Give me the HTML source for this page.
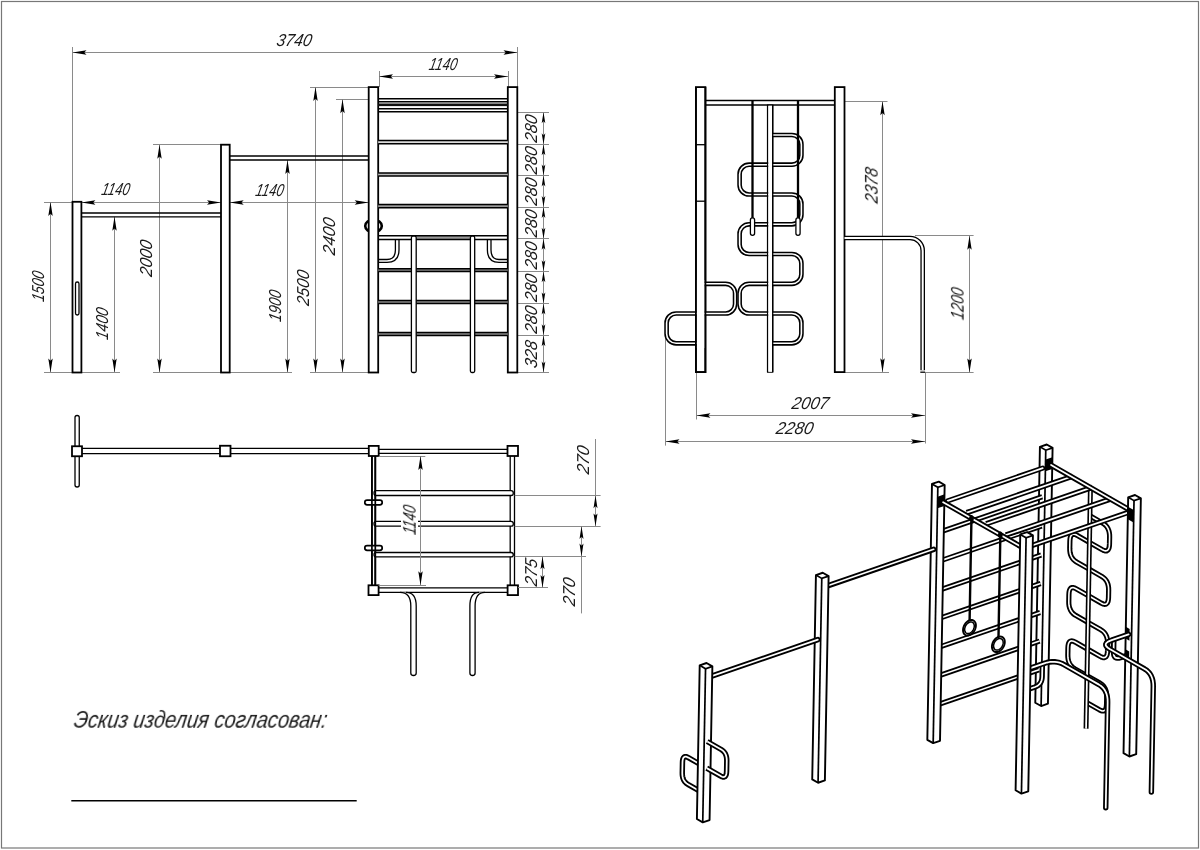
<!DOCTYPE html>
<html><head><meta charset="utf-8"><style>
html,body{margin:0;padding:0;background:#fff;width:1200px;height:850px;overflow:hidden}
svg{display:block}
text{font-family:"Liberation Sans",sans-serif;font-style:italic;fill:#1a1a1a}
</style></head><body>
<svg width="1200" height="850" viewBox="0 0 1200 850">
<rect width="1200" height="850" fill="#fff"/>
<rect x="1.5" y="1.5" width="1197" height="846.5" fill="none" stroke="#777" stroke-width="1.2"/>
<line x1="72.50" y1="47.00" x2="72.50" y2="201.80" stroke="#8a8a8a" stroke-width="1.0" />
<line x1="517.50" y1="47.00" x2="517.50" y2="87.00" stroke="#8a8a8a" stroke-width="1.0" />
<line x1="72.50" y1="52.50" x2="517.50" y2="52.50" stroke="#8a8a8a" stroke-width="1.0" />
<path d="M72.50,52.50 L86.50,50.30 L84.30,52.50 L86.50,54.70 Z" fill="#000"/>
<path d="M517.50,52.50 L503.50,54.70 L505.70,52.50 L503.50,50.30 Z" fill="#000"/>
<line x1="379.50" y1="71.00" x2="379.50" y2="87.00" stroke="#8a8a8a" stroke-width="1.0" />
<line x1="508.50" y1="71.00" x2="508.50" y2="87.00" stroke="#8a8a8a" stroke-width="1.0" />
<line x1="379.00" y1="76.50" x2="508.00" y2="76.50" stroke="#8a8a8a" stroke-width="1.0" />
<path d="M379.00,76.50 L393.00,74.30 L390.80,76.50 L393.00,78.70 Z" fill="#000"/>
<path d="M508.00,76.50 L494.00,78.70 L496.20,76.50 L494.00,74.30 Z" fill="#000"/>
<line x1="44.00" y1="202.50" x2="72.50" y2="202.50" stroke="#8a8a8a" stroke-width="1.0" />
<line x1="81.40" y1="202.50" x2="368.70" y2="202.50" stroke="#8a8a8a" stroke-width="1.0" />
<path d="M81.40,202.50 L95.40,200.30 L93.20,202.50 L95.40,204.70 Z" fill="#000"/>
<path d="M221.00,202.50 L207.00,204.70 L209.20,202.50 L207.00,200.30 Z" fill="#000"/>
<path d="M229.70,202.50 L243.70,200.30 L241.50,202.50 L243.70,204.70 Z" fill="#000"/>
<path d="M368.70,202.50 L354.70,204.70 L356.90,202.50 L354.70,200.30 Z" fill="#000"/>
<line x1="50.50" y1="202.00" x2="50.50" y2="372.50" stroke="#8a8a8a" stroke-width="1.0" />
<path d="M50.50,202.00 L52.70,216.00 L50.50,213.80 L48.30,216.00 Z" fill="#000"/>
<path d="M50.50,372.50 L48.30,358.50 L50.50,360.70 L52.70,358.50 Z" fill="#000"/>
<line x1="114.50" y1="216.80" x2="114.50" y2="372.50" stroke="#8a8a8a" stroke-width="1.0" />
<path d="M114.50,216.80 L116.70,230.80 L114.50,228.60 L112.30,230.80 Z" fill="#000"/>
<path d="M114.50,372.50 L112.30,358.50 L114.50,360.70 L116.70,358.50 Z" fill="#000"/>
<line x1="153.00" y1="144.50" x2="221.00" y2="144.50" stroke="#8a8a8a" stroke-width="1.0" />
<line x1="159.50" y1="144.70" x2="159.50" y2="372.50" stroke="#8a8a8a" stroke-width="1.0" />
<path d="M159.50,144.70 L161.70,158.70 L159.50,156.50 L157.30,158.70 Z" fill="#000"/>
<path d="M159.50,372.50 L157.30,358.50 L159.50,360.70 L161.70,358.50 Z" fill="#000"/>
<line x1="287.50" y1="160.00" x2="287.50" y2="372.50" stroke="#8a8a8a" stroke-width="1.0" />
<path d="M287.50,160.00 L289.70,174.00 L287.50,171.80 L285.30,174.00 Z" fill="#000"/>
<path d="M287.50,372.50 L285.30,358.50 L287.50,360.70 L289.70,358.50 Z" fill="#000"/>
<line x1="310.00" y1="87.50" x2="368.70" y2="87.50" stroke="#8a8a8a" stroke-width="1.0" />
<line x1="315.50" y1="87.00" x2="315.50" y2="372.50" stroke="#8a8a8a" stroke-width="1.0" />
<path d="M315.50,87.00 L317.70,101.00 L315.50,98.80 L313.30,101.00 Z" fill="#000"/>
<path d="M315.50,372.50 L313.30,358.50 L315.50,360.70 L317.70,358.50 Z" fill="#000"/>
<line x1="336.00" y1="99.50" x2="368.70" y2="99.50" stroke="#8a8a8a" stroke-width="1.0" />
<line x1="342.50" y1="99.20" x2="342.50" y2="372.50" stroke="#8a8a8a" stroke-width="1.0" />
<path d="M342.50,99.20 L344.70,113.20 L342.50,111.00 L340.30,113.20 Z" fill="#000"/>
<path d="M342.50,372.50 L340.30,358.50 L342.50,360.70 L344.70,358.50 Z" fill="#000"/>
<line x1="44.00" y1="372.50" x2="120.00" y2="372.50" stroke="#8a8a8a" stroke-width="1.0" />
<line x1="153.00" y1="372.50" x2="292.00" y2="372.50" stroke="#8a8a8a" stroke-width="1.0" />
<line x1="310.00" y1="372.50" x2="368.70" y2="372.50" stroke="#8a8a8a" stroke-width="1.0" />
<line x1="517.30" y1="372.50" x2="549.00" y2="372.50" stroke="#8a8a8a" stroke-width="1.0" />
<line x1="517.30" y1="112.50" x2="549.00" y2="112.50" stroke="#8a8a8a" stroke-width="1.0" />
<line x1="517.30" y1="144.50" x2="549.00" y2="144.50" stroke="#8a8a8a" stroke-width="1.0" />
<line x1="517.30" y1="175.50" x2="549.00" y2="175.50" stroke="#8a8a8a" stroke-width="1.0" />
<line x1="517.30" y1="207.50" x2="549.00" y2="207.50" stroke="#8a8a8a" stroke-width="1.0" />
<line x1="517.30" y1="238.50" x2="549.00" y2="238.50" stroke="#8a8a8a" stroke-width="1.0" />
<line x1="517.30" y1="271.50" x2="549.00" y2="271.50" stroke="#8a8a8a" stroke-width="1.0" />
<line x1="517.30" y1="303.50" x2="549.00" y2="303.50" stroke="#8a8a8a" stroke-width="1.0" />
<line x1="517.30" y1="335.50" x2="549.00" y2="335.50" stroke="#8a8a8a" stroke-width="1.0" />
<line x1="517.30" y1="372.50" x2="549.00" y2="372.50" stroke="#8a8a8a" stroke-width="1.0" />
<line x1="543.50" y1="112.20" x2="543.50" y2="372.50" stroke="#8a8a8a" stroke-width="1.0" />
<path d="M543.50,112.20 L545.30,123.20 L543.50,121.00 L541.70,123.20 Z" fill="#000"/>
<path d="M543.50,144.20 L541.70,133.20 L543.50,135.40 L545.30,133.20 Z" fill="#000"/>
<path d="M543.50,144.20 L545.30,155.20 L543.50,153.00 L541.70,155.20 Z" fill="#000"/>
<path d="M543.50,175.50 L541.70,164.50 L543.50,166.70 L545.30,164.50 Z" fill="#000"/>
<path d="M543.50,175.50 L545.30,186.50 L543.50,184.30 L541.70,186.50 Z" fill="#000"/>
<path d="M543.50,207.00 L541.70,196.00 L543.50,198.20 L545.30,196.00 Z" fill="#000"/>
<path d="M543.50,207.00 L545.30,218.00 L543.50,215.80 L541.70,218.00 Z" fill="#000"/>
<path d="M543.50,238.75 L541.70,227.75 L543.50,229.95 L545.30,227.75 Z" fill="#000"/>
<path d="M543.50,238.75 L545.30,249.75 L543.50,247.55 L541.70,249.75 Z" fill="#000"/>
<path d="M543.50,271.30 L541.70,260.30 L543.50,262.50 L545.30,260.30 Z" fill="#000"/>
<path d="M543.50,271.30 L545.30,282.30 L543.50,280.10 L541.70,282.30 Z" fill="#000"/>
<path d="M543.50,303.40 L541.70,292.40 L543.50,294.60 L545.30,292.40 Z" fill="#000"/>
<path d="M543.50,303.40 L545.30,314.40 L543.50,312.20 L541.70,314.40 Z" fill="#000"/>
<path d="M543.50,335.20 L541.70,324.20 L543.50,326.40 L545.30,324.20 Z" fill="#000"/>
<path d="M543.50,335.20 L545.30,346.20 L543.50,344.00 L541.70,346.20 Z" fill="#000"/>
<path d="M543.50,372.50 L541.70,361.50 L543.50,363.70 L545.30,361.50 Z" fill="#000"/>
<ellipse cx="373.5" cy="226" rx="8.3" ry="6.3" fill="none" stroke="#000" stroke-width="2.6"/>
<rect x="72.50" y="201.80" width="8.90" height="170.70" rx="0" fill="#fff" stroke="#000" stroke-width="1.8"/>
<rect x="221.00" y="144.70" width="8.70" height="227.80" rx="0" fill="#fff" stroke="#000" stroke-width="1.8"/>
<rect x="368.70" y="87.10" width="9.50" height="285.40" rx="0" fill="#fff" stroke="#000" stroke-width="1.8"/>
<rect x="507.80" y="87.10" width="9.50" height="285.40" rx="0" fill="#fff" stroke="#000" stroke-width="1.8"/>
<rect x="75.50" y="282.00" width="3.50" height="33.00" rx="1.7" fill="none" stroke="#000" stroke-width="1.3"/>
<line x1="81.40" y1="213.00" x2="221.00" y2="213.00" stroke="#000" stroke-width="1.3" />
<line x1="81.40" y1="216.80" x2="221.00" y2="216.80" stroke="#000" stroke-width="1.3" />
<line x1="229.70" y1="156.00" x2="368.70" y2="156.00" stroke="#000" stroke-width="1.3" />
<line x1="229.70" y1="160.00" x2="368.70" y2="160.00" stroke="#000" stroke-width="1.3" />
<line x1="378.20" y1="98.70" x2="507.80" y2="98.70" stroke="#000" stroke-width="1.4" />
<line x1="378.20" y1="101.70" x2="507.80" y2="101.70" stroke="#000" stroke-width="1.4" />
<line x1="378.20" y1="108.70" x2="507.80" y2="108.70" stroke="#000" stroke-width="1.4" />
<line x1="378.20" y1="111.70" x2="507.80" y2="111.70" stroke="#000" stroke-width="1.4" />
<rect x="378.2" y="103.5" width="129.6" height="2.6" fill="#111"/>
<rect x="378.2" y="140.60" width="129.6" height="3.20" fill="#ddd"/>
<line x1="378.20" y1="140.60" x2="507.80" y2="140.60" stroke="#000" stroke-width="1.5" />
<line x1="378.20" y1="143.80" x2="507.80" y2="143.80" stroke="#000" stroke-width="1.5" />
<rect x="378.2" y="172.90" width="129.6" height="3.10" fill="#bbb"/>
<line x1="378.20" y1="172.90" x2="507.80" y2="172.90" stroke="#000" stroke-width="1.5" />
<line x1="378.20" y1="176.00" x2="507.80" y2="176.00" stroke="#000" stroke-width="1.5" />
<rect x="378.2" y="204.60" width="129.6" height="3.20" fill="#999"/>
<line x1="378.20" y1="204.60" x2="507.80" y2="204.60" stroke="#000" stroke-width="1.5" />
<line x1="378.20" y1="207.80" x2="507.80" y2="207.80" stroke="#000" stroke-width="1.5" />
<rect x="378.2" y="268.70" width="129.6" height="2.90" fill="#888"/>
<line x1="378.20" y1="268.70" x2="507.80" y2="268.70" stroke="#000" stroke-width="1.5" />
<line x1="378.20" y1="271.60" x2="507.80" y2="271.60" stroke="#000" stroke-width="1.5" />
<rect x="378.2" y="300.60" width="129.6" height="3.00" fill="#888"/>
<line x1="378.20" y1="300.60" x2="507.80" y2="300.60" stroke="#000" stroke-width="1.5" />
<line x1="378.20" y1="303.60" x2="507.80" y2="303.60" stroke="#000" stroke-width="1.5" />
<rect x="378.2" y="332.60" width="129.6" height="3.00" fill="#888"/>
<line x1="378.20" y1="332.60" x2="507.80" y2="332.60" stroke="#000" stroke-width="1.5" />
<line x1="378.20" y1="335.60" x2="507.80" y2="335.60" stroke="#000" stroke-width="1.5" />
<rect x="416" y="235.8" width="54.4" height="3.8" fill="#999"/>
<line x1="378.20" y1="235.80" x2="507.80" y2="235.80" stroke="#000" stroke-width="1.5" />
<line x1="378.20" y1="239.60" x2="507.80" y2="239.60" stroke="#000" stroke-width="1.5" />
<rect x="411.40" y="236.2" width="4.80" height="136.30" rx="1.5" fill="#fff" stroke="#000" stroke-width="1.3"/>
<rect x="470.40" y="236.2" width="4.30" height="136.30" rx="1.5" fill="#fff" stroke="#000" stroke-width="1.3"/>
<path d="M378.2,262.3 L387,262.3 Q399,262.3 399,250 L399,239.7" fill="none" stroke="#000" stroke-width="1.3"/>
<path d="M378.2,259.5 L387,259.5 Q395.4,259.5 395.4,250 L395.4,239.7" fill="none" stroke="#000" stroke-width="1.3"/>
<path d="M507.8,262.3 L499,262.3 Q487.4,262.3 487.4,250 L487.4,239.7" fill="none" stroke="#000" stroke-width="1.3"/>
<path d="M507.8,259.5 L499,259.5 Q491,259.5 491,250 L491,239.7" fill="none" stroke="#000" stroke-width="1.3"/>
<rect x="75" y="415.5" width="4.25" height="71.5" rx="2.1" fill="#fff" stroke="#000" stroke-width="1.3"/>
<line x1="82.00" y1="448.40" x2="368.80" y2="448.40" stroke="#000" stroke-width="1.3" />
<line x1="82.00" y1="453.60" x2="368.80" y2="453.60" stroke="#000" stroke-width="1.3" />
<rect x="72.00" y="446.25" width="10.00" height="10.00" rx="0" fill="#fff" stroke="#000" stroke-width="1.8"/>
<rect x="220.00" y="445.75" width="10.50" height="10.50" rx="0" fill="#fff" stroke="#000" stroke-width="1.8"/>
<line x1="378.70" y1="449.30" x2="507.50" y2="449.30" stroke="#000" stroke-width="1.3" />
<line x1="378.70" y1="453.30" x2="507.50" y2="453.30" stroke="#000" stroke-width="1.3" />
<line x1="378.60" y1="587.90" x2="507.60" y2="587.90" stroke="#000" stroke-width="1.3" />
<line x1="378.60" y1="592.40" x2="507.60" y2="592.40" stroke="#000" stroke-width="1.3" />
<line x1="371.90" y1="456.00" x2="371.90" y2="585.30" stroke="#000" stroke-width="1.7" />
<line x1="375.30" y1="456.00" x2="375.30" y2="585.30" stroke="#000" stroke-width="1.7" />
<line x1="510.20" y1="456.00" x2="510.20" y2="585.30" stroke="#000" stroke-width="1.3" />
<line x1="514.50" y1="456.00" x2="514.50" y2="585.30" stroke="#000" stroke-width="1.3" />
<rect x="374" y="490.70" width="139.3" height="4.80" rx="2.2" fill="#fff" stroke="#000" stroke-width="1.3"/>
<rect x="374" y="521.30" width="139.3" height="4.80" rx="2.2" fill="#fff" stroke="#000" stroke-width="1.3"/>
<rect x="374" y="552.50" width="139.3" height="4.30" rx="2.2" fill="#fff" stroke="#000" stroke-width="1.3"/>
<rect x="401" y="520" width="17" height="7.5" fill="#fff"/>
<rect x="364.8" y="500.20" width="17.4" height="4.6" rx="2.3" fill="#fff" stroke="#000" stroke-width="1.7"/>
<rect x="364.8" y="545.70" width="17.4" height="4.6" rx="2.3" fill="#fff" stroke="#000" stroke-width="1.7"/>
<line x1="371.90" y1="456.00" x2="371.90" y2="585.30" stroke="#000" stroke-width="1.7" />
<line x1="375.30" y1="456.00" x2="375.30" y2="585.30" stroke="#000" stroke-width="1.7" />
<path d="M400,592.4 Q410.8,592.4 410.8,606 L410.8,673 Q410.8,675.5 413.5,675.5 Q416.2,675.5 416.2,673 L416.2,606 Q416.2,592.4 406,592.4" fill="#fff" stroke="#000" stroke-width="1.3"/>
<path d="M485,592.4 Q475.1,592.4 475.1,606 L475.1,673 Q475.1,675.5 472.5,675.5 Q469.9,675.5 469.9,673 L469.9,606 Q469.9,592.4 479,592.4" fill="#fff" stroke="#000" stroke-width="1.3"/>
<rect x="368.80" y="445.90" width="9.90" height="10.10" rx="0" fill="#fff" stroke="#000" stroke-width="1.8"/>
<rect x="507.50" y="445.90" width="10.50" height="10.10" rx="0" fill="#fff" stroke="#000" stroke-width="1.8"/>
<rect x="368.50" y="585.30" width="10.10" height="9.80" rx="0" fill="#fff" stroke="#000" stroke-width="1.8"/>
<rect x="507.60" y="585.30" width="10.40" height="9.80" rx="0" fill="#fff" stroke="#000" stroke-width="1.8"/>
<line x1="378.70" y1="456.50" x2="425.30" y2="456.50" stroke="#8a8a8a" stroke-width="1.0" />
<line x1="378.60" y1="585.50" x2="426.00" y2="585.50" stroke="#8a8a8a" stroke-width="1.0" />
<line x1="420.50" y1="456.00" x2="420.50" y2="585.25" stroke="#8a8a8a" stroke-width="1.0" />
<path d="M420.50,456.00 L422.70,470.00 L420.50,467.80 L418.30,470.00 Z" fill="#000"/>
<path d="M420.50,585.25 L418.30,571.25 L420.50,573.45 L422.70,571.25 Z" fill="#000"/>
<line x1="514.70" y1="495.50" x2="600.60" y2="495.50" stroke="#8a8a8a" stroke-width="1.0" />
<line x1="514.70" y1="526.50" x2="600.60" y2="526.50" stroke="#8a8a8a" stroke-width="1.0" />
<line x1="514.70" y1="556.50" x2="586.00" y2="556.50" stroke="#8a8a8a" stroke-width="1.0" />
<line x1="518.00" y1="587.50" x2="548.00" y2="587.50" stroke="#8a8a8a" stroke-width="1.0" />
<line x1="595.50" y1="439.00" x2="595.50" y2="526.20" stroke="#8a8a8a" stroke-width="1.0" />
<path d="M595.50,495.40 L597.50,508.20 L595.50,506.00 L593.50,508.20 Z" fill="#000"/>
<path d="M595.50,526.20 L593.50,513.40 L595.50,515.60 L597.50,513.40 Z" fill="#000"/>
<line x1="581.50" y1="526.20" x2="581.50" y2="613.40" stroke="#8a8a8a" stroke-width="1.0" />
<path d="M581.50,526.20 L583.50,539.00 L581.50,536.80 L579.50,539.00 Z" fill="#000"/>
<path d="M581.50,556.40 L579.50,543.60 L581.50,545.80 L583.50,543.60 Z" fill="#000"/>
<line x1="542.50" y1="556.40" x2="542.50" y2="587.80" stroke="#8a8a8a" stroke-width="1.0" />
<path d="M542.50,556.40 L544.50,569.20 L542.50,567.00 L540.50,569.20 Z" fill="#000"/>
<path d="M542.50,587.80 L540.50,575.00 L542.50,577.20 L544.50,575.00 Z" fill="#000"/>
<line x1="71.30" y1="800.70" x2="356.70" y2="800.70" stroke="#000" stroke-width="1.5" />
<line x1="845.00" y1="101.50" x2="887.50" y2="101.50" stroke="#8a8a8a" stroke-width="1.0" />
<line x1="882.50" y1="101.30" x2="882.50" y2="372.30" stroke="#8a8a8a" stroke-width="1.0" />
<path d="M882.50,101.30 L884.70,115.30 L882.50,113.10 L880.30,115.30 Z" fill="#000"/>
<path d="M882.50,372.30 L880.30,358.30 L882.50,360.50 L884.70,358.30 Z" fill="#000"/>
<line x1="915.00" y1="235.50" x2="973.60" y2="235.50" stroke="#8a8a8a" stroke-width="1.0" />
<line x1="925.00" y1="372.50" x2="973.60" y2="372.50" stroke="#8a8a8a" stroke-width="1.0" />
<line x1="844.50" y1="372.50" x2="889.00" y2="372.50" stroke="#8a8a8a" stroke-width="1.0" />
<line x1="969.50" y1="235.80" x2="969.50" y2="372.40" stroke="#8a8a8a" stroke-width="1.0" />
<path d="M969.50,235.80 L971.70,249.80 L969.50,247.60 L967.30,249.80 Z" fill="#000"/>
<path d="M969.50,372.40 L967.30,358.40 L969.50,360.60 L971.70,358.40 Z" fill="#000"/>
<line x1="696.50" y1="372.40" x2="696.50" y2="419.50" stroke="#8a8a8a" stroke-width="1.0" />
<line x1="925.50" y1="372.40" x2="925.50" y2="443.50" stroke="#8a8a8a" stroke-width="1.0" />
<line x1="665.50" y1="337.00" x2="665.50" y2="445.60" stroke="#8a8a8a" stroke-width="1.0" />
<line x1="696.40" y1="415.50" x2="925.00" y2="415.50" stroke="#8a8a8a" stroke-width="1.0" />
<path d="M696.40,415.50 L710.40,413.30 L708.20,415.50 L710.40,417.70 Z" fill="#000"/>
<path d="M925.00,415.50 L911.00,417.70 L913.20,415.50 L911.00,413.30 Z" fill="#000"/>
<line x1="665.50" y1="441.50" x2="925.00" y2="441.50" stroke="#8a8a8a" stroke-width="1.0" />
<path d="M665.50,441.50 L679.50,439.30 L677.30,441.50 L679.50,443.70 Z" fill="#000"/>
<path d="M925.00,441.50 L911.00,443.70 L913.20,441.50 L911.00,439.30 Z" fill="#000"/>
<rect x="695.9" y="87.1" width="9.5" height="285" fill="#fff" stroke="#000" stroke-width="1.8"/>
<line x1="695.9" y1="144.7" x2="705.4" y2="144.7" stroke="#000" stroke-width="1.3"/>
<line x1="695.9" y1="201.2" x2="705.4" y2="201.2" stroke="#000" stroke-width="1.3"/>
<rect x="834.8" y="87.1" width="9.7" height="285" fill="#fff" stroke="#000" stroke-width="1.8"/>
<line x1="705.4" y1="100.6" x2="834.8" y2="100.6" stroke="#000" stroke-width="1.5"/>
<line x1="705.4" y1="105.1" x2="834.8" y2="105.1" stroke="#000" stroke-width="1.5"/>
<rect x="767.6" y="105.1" width="5.1" height="267" fill="#fff" stroke="#000" stroke-width="1.3"/>
<path d="M770.10,135.00 L791.90,135.00 A9.5,9.5 0 0 1 801.40,144.50 L801.40,155.20 A9.5,9.5 0 0 1 791.90,164.70 L770.10,164.70 L749.10,164.70 A9.5,9.5 0 0 0 739.60,174.20 L739.60,185.00 A9.5,9.5 0 0 0 749.10,194.50 L770.10,194.50 L791.90,194.50 A9.5,9.5 0 0 1 801.40,204.00 L801.40,214.80 A9.5,9.5 0 0 1 791.90,224.30 L770.10,224.30 L749.10,224.30 A9.5,9.5 0 0 0 739.60,233.80 L739.60,244.50 A9.5,9.5 0 0 0 749.10,254.00 L770.10,254.00 L791.90,254.00 A9.5,9.5 0 0 1 801.40,263.50 L801.40,274.30 A9.5,9.5 0 0 1 791.90,283.80 L770.10,283.80 L749.10,283.80 A9.5,9.5 0 0 0 739.60,293.30 L739.60,304.00 A9.5,9.5 0 0 0 749.10,313.50 L770.10,313.50 L791.90,313.50 A9.5,9.5 0 0 1 801.40,323.00 L801.40,333.80 A9.5,9.5 0 0 1 791.90,343.30 L770.10,343.30" fill="none" stroke="#000" stroke-width="4.7" stroke-linecap="butt" stroke-linejoin="round"/>
<path d="M770.10,135.00 L791.90,135.00 A9.5,9.5 0 0 1 801.40,144.50 L801.40,155.20 A9.5,9.5 0 0 1 791.90,164.70 L770.10,164.70 L749.10,164.70 A9.5,9.5 0 0 0 739.60,174.20 L739.60,185.00 A9.5,9.5 0 0 0 749.10,194.50 L770.10,194.50 L791.90,194.50 A9.5,9.5 0 0 1 801.40,204.00 L801.40,214.80 A9.5,9.5 0 0 1 791.90,224.30 L770.10,224.30 L749.10,224.30 A9.5,9.5 0 0 0 739.60,233.80 L739.60,244.50 A9.5,9.5 0 0 0 749.10,254.00 L770.10,254.00 L791.90,254.00 A9.5,9.5 0 0 1 801.40,263.50 L801.40,274.30 A9.5,9.5 0 0 1 791.90,283.80 L770.10,283.80 L749.10,283.80 A9.5,9.5 0 0 0 739.60,293.30 L739.60,304.00 A9.5,9.5 0 0 0 749.10,313.50 L770.10,313.50 L791.90,313.50 A9.5,9.5 0 0 1 801.40,323.00 L801.40,333.80 A9.5,9.5 0 0 1 791.90,343.30 L770.10,343.30" fill="none" stroke="#fff" stroke-width="1.6" stroke-linecap="butt" stroke-linejoin="round"/>
<path d="M700.60,283.80 L725.60,283.80 A9.5,9.5 0 0 1 735.10,293.30 L735.10,304.00 A9.5,9.5 0 0 1 725.60,313.50 L700.60,313.50 L676.10,313.50 A9.5,9.5 0 0 0 666.60,323.00 L666.60,333.80 A9.5,9.5 0 0 0 676.10,343.30 L700.60,343.30" fill="none" stroke="#000" stroke-width="4.7" stroke-linecap="butt" stroke-linejoin="round"/>
<path d="M700.60,283.80 L725.60,283.80 A9.5,9.5 0 0 1 735.10,293.30 L735.10,304.00 A9.5,9.5 0 0 1 725.60,313.50 L700.60,313.50 L676.10,313.50 A9.5,9.5 0 0 0 666.60,323.00 L666.60,333.80 A9.5,9.5 0 0 0 676.10,343.30 L700.60,343.30" fill="none" stroke="#fff" stroke-width="1.6" stroke-linecap="butt" stroke-linejoin="round"/>
<line x1="767.6" y1="105.1" x2="767.6" y2="372.1" stroke="#000" stroke-width="1.3"/>
<line x1="772.7" y1="105.1" x2="772.7" y2="372.1" stroke="#000" stroke-width="1.3"/>
<rect x="768.3" y="105.8" width="3.7" height="266" fill="#fff"/>
<rect x="696.7" y="280" width="7.9" height="68" fill="#fff"/>
<line x1="695.9" y1="87.1" x2="695.9" y2="372.9" stroke="#000" stroke-width="1.8"/>
<line x1="705.4" y1="87.1" x2="705.4" y2="372.9" stroke="#000" stroke-width="1.8"/>
<line x1="695.9" y1="372.1" x2="705.4" y2="372.1" stroke="#000" stroke-width="1.8"/>
<line x1="752.5" y1="100.6" x2="752.5" y2="220" stroke="#000" stroke-width="2.3"/>
<rect x="750.40" y="217.8" width="4.2" height="17.6" rx="2.1" fill="#fff" stroke="#000" stroke-width="1.3"/>
<line x1="798.0" y1="100.6" x2="798.0" y2="220" stroke="#000" stroke-width="2.3"/>
<rect x="795.90" y="217.8" width="4.2" height="17.6" rx="2.1" fill="#fff" stroke="#000" stroke-width="1.3"/>
<path d="M844.5,238 L910,238 A12.7,12.7 0 0 1 922.7,250.7 L922.7,370.2" fill="none" stroke="#000" stroke-width="4.6" stroke-linecap="butt" stroke-linejoin="round"/>
<path d="M844.5,238 L910,238 A12.7,12.7 0 0 1 922.7,250.7 L922.7,370.2" fill="none" stroke="#fff" stroke-width="2.0" stroke-linecap="butt" stroke-linejoin="round"/>
<line x1="920.3" y1="372.2" x2="925.1" y2="372.2" stroke="#000" stroke-width="1.3"/>
<path d="M1039.92,446.85 L1046.75,444.50 L1052.59,447.84 L1047.94,703.69 L1041.11,706.04 L1035.27,702.70 Z" fill="#fff" stroke="#000" stroke-width="1.9" stroke-linejoin="round"/>
<path d="M1039.92,446.85 L1045.76,450.19 L1052.59,447.84" fill="none" stroke="#000" stroke-width="1.71"/>
<path d="M1045.76,450.19 L1041.11,706.04" fill="none" stroke="#000" stroke-width="1.71"/>
<path d="M1045.38,471.25 L1052.21,468.90 L1052.42,457.25 L1045.59,459.60 Z" fill="#000"/>
<path d="M940.62,531.76 L1042.19,496.83" fill="none" stroke="#000" stroke-width="5.2" stroke-linecap="butt" stroke-linejoin="round"/>
<path d="M940.62,531.76 L1042.19,496.83" fill="none" stroke="#fff" stroke-width="1.6" stroke-linecap="butt" stroke-linejoin="round"/>
<path d="M940.10,560.88 L1041.66,525.96" fill="none" stroke="#000" stroke-width="5.2" stroke-linecap="butt" stroke-linejoin="round"/>
<path d="M940.10,560.88 L1041.66,525.96" fill="none" stroke="#fff" stroke-width="1.6" stroke-linecap="butt" stroke-linejoin="round"/>
<path d="M939.57,590.01 L1041.13,555.08" fill="none" stroke="#000" stroke-width="5.2" stroke-linecap="butt" stroke-linejoin="round"/>
<path d="M939.57,590.01 L1041.13,555.08" fill="none" stroke="#fff" stroke-width="1.6" stroke-linecap="butt" stroke-linejoin="round"/>
<path d="M939.05,618.41 L1040.62,583.49" fill="none" stroke="#000" stroke-width="5.2" stroke-linecap="butt" stroke-linejoin="round"/>
<path d="M939.05,618.41 L1040.62,583.49" fill="none" stroke="#fff" stroke-width="1.6" stroke-linecap="butt" stroke-linejoin="round"/>
<path d="M938.52,647.36 L1040.09,612.44" fill="none" stroke="#000" stroke-width="5.2" stroke-linecap="butt" stroke-linejoin="round"/>
<path d="M938.52,647.36 L1040.09,612.44" fill="none" stroke="#fff" stroke-width="1.6" stroke-linecap="butt" stroke-linejoin="round"/>
<path d="M938.00,676.04 L1039.57,641.11" fill="none" stroke="#000" stroke-width="5.2" stroke-linecap="butt" stroke-linejoin="round"/>
<path d="M938.00,676.04 L1039.57,641.11" fill="none" stroke="#fff" stroke-width="1.6" stroke-linecap="butt" stroke-linejoin="round"/>
<path d="M937.48,704.71 L1039.05,669.79" fill="none" stroke="#000" stroke-width="5.2" stroke-linecap="butt" stroke-linejoin="round"/>
<path d="M937.48,704.71 L1039.05,669.79" fill="none" stroke="#fff" stroke-width="1.6" stroke-linecap="butt" stroke-linejoin="round"/>
<path d="M947.67,500.84 L1042.71,468.16" fill="none" stroke="#000" stroke-width="5.2" stroke-linecap="round" stroke-linejoin="round"/>
<path d="M947.67,500.84 L1042.71,468.16" fill="none" stroke="#fff" stroke-width="1.7" stroke-linecap="round" stroke-linejoin="round"/>
<path d="M1089.92,515.78 L1102.81,523.15 L1104.45,524.24 L1105.86,525.52 L1107.04,526.97 L1108.01,528.61 L1108.75,530.44 L1109.26,532.44 L1109.55,534.63 L1109.62,537.01 L1109.49,543.91 L1109.34,546.15 L1108.98,547.97 L1108.40,549.35 L1107.61,550.30 L1106.61,550.82 L1105.40,550.90 L1103.97,550.55 L1102.33,549.77 L1089.44,542.40 L1077.06,535.32 L1075.42,534.53 L1073.99,534.18 L1072.77,534.27 L1071.77,534.78 L1070.98,535.73 L1070.41,537.12 L1070.04,538.93 L1069.89,541.18 L1069.76,548.17 L1069.83,550.54 L1070.12,552.73 L1070.64,554.74 L1071.38,556.56 L1072.34,558.20 L1073.53,559.66 L1074.94,560.93 L1076.57,562.02 L1088.95,569.10 L1101.84,576.47 L1103.48,577.56 L1104.89,578.84 L1106.07,580.29 L1107.04,581.93 L1107.78,583.76 L1108.29,585.76 L1108.58,587.95 L1108.65,590.33 L1108.52,597.32 L1108.37,599.56 L1108.01,601.38 L1107.43,602.76 L1106.64,603.71 L1105.64,604.23 L1104.43,604.31 L1103.00,603.96 L1101.36,603.18 L1088.47,595.81 L1076.09,588.73 L1074.45,587.94 L1073.02,587.59 L1071.80,587.68 L1070.80,588.19 L1070.01,589.14 L1069.44,590.53 L1069.07,592.34 L1068.92,594.59 L1068.80,601.49 L1068.86,603.86 L1069.15,606.05 L1069.67,608.06 L1070.41,609.88 L1071.37,611.52 L1072.56,612.98 L1073.97,614.25 L1075.60,615.34 L1087.98,622.42 L1100.87,629.79 L1102.51,630.89 L1103.92,632.16 L1105.11,633.62 L1106.07,635.26 L1106.81,637.08 L1107.32,639.08 L1107.61,641.27 L1107.68,643.65 L1107.55,650.64 L1107.40,652.88 L1107.04,654.70 L1106.46,656.08 L1105.67,657.03 L1104.67,657.55 L1103.46,657.63 L1102.03,657.28 L1100.39,656.50 L1087.50,649.13 L1075.12,642.05 L1073.48,641.26 L1072.05,640.92 L1070.83,641.00 L1069.83,641.52 L1069.04,642.46 L1068.47,643.85 L1068.10,645.66 L1067.95,647.91 L1067.83,654.81 L1067.89,657.18 L1068.18,659.37 L1068.70,661.38 L1069.44,663.20 L1070.40,664.84 L1071.59,666.30 L1073.00,667.57 L1074.63,668.66 L1087.01,675.74 L1099.91,683.12 L1101.54,684.21 L1102.95,685.48 L1104.14,686.94 L1105.10,688.58 L1105.84,690.40 L1106.35,692.41 L1106.64,694.60 L1106.71,696.97 L1106.58,703.96 L1106.43,706.21 L1106.07,708.02 L1105.49,709.40 L1104.70,710.35 L1103.70,710.87 L1102.49,710.95 L1101.06,710.60 L1099.42,709.82 L1086.53,702.45" fill="none" stroke="#000" stroke-width="5.2" stroke-linecap="butt" stroke-linejoin="round"/>
<path d="M1089.92,515.78 L1102.81,523.15 L1104.45,524.24 L1105.86,525.52 L1107.04,526.97 L1108.01,528.61 L1108.75,530.44 L1109.26,532.44 L1109.55,534.63 L1109.62,537.01 L1109.49,543.91 L1109.34,546.15 L1108.98,547.97 L1108.40,549.35 L1107.61,550.30 L1106.61,550.82 L1105.40,550.90 L1103.97,550.55 L1102.33,549.77 L1089.44,542.40 L1077.06,535.32 L1075.42,534.53 L1073.99,534.18 L1072.77,534.27 L1071.77,534.78 L1070.98,535.73 L1070.41,537.12 L1070.04,538.93 L1069.89,541.18 L1069.76,548.17 L1069.83,550.54 L1070.12,552.73 L1070.64,554.74 L1071.38,556.56 L1072.34,558.20 L1073.53,559.66 L1074.94,560.93 L1076.57,562.02 L1088.95,569.10 L1101.84,576.47 L1103.48,577.56 L1104.89,578.84 L1106.07,580.29 L1107.04,581.93 L1107.78,583.76 L1108.29,585.76 L1108.58,587.95 L1108.65,590.33 L1108.52,597.32 L1108.37,599.56 L1108.01,601.38 L1107.43,602.76 L1106.64,603.71 L1105.64,604.23 L1104.43,604.31 L1103.00,603.96 L1101.36,603.18 L1088.47,595.81 L1076.09,588.73 L1074.45,587.94 L1073.02,587.59 L1071.80,587.68 L1070.80,588.19 L1070.01,589.14 L1069.44,590.53 L1069.07,592.34 L1068.92,594.59 L1068.80,601.49 L1068.86,603.86 L1069.15,606.05 L1069.67,608.06 L1070.41,609.88 L1071.37,611.52 L1072.56,612.98 L1073.97,614.25 L1075.60,615.34 L1087.98,622.42 L1100.87,629.79 L1102.51,630.89 L1103.92,632.16 L1105.11,633.62 L1106.07,635.26 L1106.81,637.08 L1107.32,639.08 L1107.61,641.27 L1107.68,643.65 L1107.55,650.64 L1107.40,652.88 L1107.04,654.70 L1106.46,656.08 L1105.67,657.03 L1104.67,657.55 L1103.46,657.63 L1102.03,657.28 L1100.39,656.50 L1087.50,649.13 L1075.12,642.05 L1073.48,641.26 L1072.05,640.92 L1070.83,641.00 L1069.83,641.52 L1069.04,642.46 L1068.47,643.85 L1068.10,645.66 L1067.95,647.91 L1067.83,654.81 L1067.89,657.18 L1068.18,659.37 L1068.70,661.38 L1069.44,663.20 L1070.40,664.84 L1071.59,666.30 L1073.00,667.57 L1074.63,668.66 L1087.01,675.74 L1099.91,683.12 L1101.54,684.21 L1102.95,685.48 L1104.14,686.94 L1105.10,688.58 L1105.84,690.40 L1106.35,692.41 L1106.64,694.60 L1106.71,696.97 L1106.58,703.96 L1106.43,706.21 L1106.07,708.02 L1105.49,709.40 L1104.70,710.35 L1103.70,710.87 L1102.49,710.95 L1101.06,710.60 L1099.42,709.82 L1086.53,702.45" fill="none" stroke="#fff" stroke-width="1.6" stroke-linecap="butt" stroke-linejoin="round"/>
<path d="M1090.42,488.45 L1086.05,728.62" fill="none" stroke="#000" stroke-width="5.0" stroke-linecap="butt" stroke-linejoin="round"/>
<path d="M1090.42,488.45 L1086.05,728.62" fill="none" stroke="#fff" stroke-width="1.75" stroke-linecap="butt" stroke-linejoin="round"/>
<path d="M966.68,512.67 L1072.68,476.22" fill="none" stroke="#000" stroke-width="5.4" stroke-linecap="butt" stroke-linejoin="round"/>
<path d="M966.68,512.67 L1072.68,476.22" fill="none" stroke="#fff" stroke-width="1.75" stroke-linecap="butt" stroke-linejoin="round"/>
<path d="M986.18,523.81 L1092.17,487.37" fill="none" stroke="#000" stroke-width="5.4" stroke-linecap="butt" stroke-linejoin="round"/>
<path d="M986.18,523.81 L1092.17,487.37" fill="none" stroke="#fff" stroke-width="1.75" stroke-linecap="butt" stroke-linejoin="round"/>
<path d="M1005.80,535.03 L1111.79,498.59" fill="none" stroke="#000" stroke-width="5.4" stroke-linecap="butt" stroke-linejoin="round"/>
<path d="M1005.80,535.03 L1111.79,498.59" fill="none" stroke="#fff" stroke-width="1.75" stroke-linecap="butt" stroke-linejoin="round"/>
<path d="M1051.07,465.04 L1131.08,510.79" fill="none" stroke="#000" stroke-width="5.4" stroke-linecap="round" stroke-linejoin="round"/>
<path d="M1051.07,465.04 L1131.08,510.79" fill="none" stroke="#fff" stroke-width="1.75" stroke-linecap="round" stroke-linejoin="round"/>
<path d="M931.98,483.96 L938.82,481.61 L944.66,484.95 L940.01,740.81 L933.17,743.16 L927.33,739.81 Z" fill="#fff" stroke="#000" stroke-width="1.9" stroke-linejoin="round"/>
<path d="M931.98,483.96 L937.83,487.30 L944.66,484.95" fill="none" stroke="#000" stroke-width="1.71"/>
<path d="M937.83,487.30 L933.17,743.16" fill="none" stroke="#000" stroke-width="1.71"/>
<path d="M937.44,508.36 L944.28,506.01 L944.49,494.36 L937.65,496.71 Z" fill="#000"/>
<path d="M943.13,502.15 L1023.14,547.91" fill="none" stroke="#000" stroke-width="5.4" stroke-linecap="round" stroke-linejoin="round"/>
<path d="M943.13,502.15 L1023.14,547.91" fill="none" stroke="#fff" stroke-width="1.75" stroke-linecap="round" stroke-linejoin="round"/>
<path d="M971.49,516.20 L969.60,620.16" fill="none" stroke="#000" stroke-width="2.4" stroke-linecap="round"/>
<ellipse cx="971.45" cy="518.44" rx="2.4" ry="3" fill="#000"/>
<path d="M975.91,625.56 L975.87,624.61 L975.73,623.71 L975.47,622.88 L975.11,622.14 L974.66,621.49 L974.12,620.95 L973.50,620.52 L972.80,620.22 L972.06,620.05 L971.26,620.02 L970.44,620.11 L969.60,620.34 L968.76,620.69 L967.93,621.16 L967.12,621.75 L966.36,622.44 L965.65,623.22 L965.00,624.08 L964.43,625.00 L963.95,625.97 L963.56,626.97 L963.27,627.99 L963.09,629.00 L963.02,629.99 L963.06,630.94 L963.20,631.84 L963.46,632.67 L963.82,633.41 L964.27,634.06 L964.81,634.60 L965.43,635.02 L966.13,635.32 L966.87,635.49 L967.67,635.53 L968.49,635.44 L969.33,635.21 L970.17,634.86 L971.00,634.38 L971.81,633.80 L972.57,633.11 L973.28,632.33 L973.93,631.47 L974.50,630.54 L974.98,629.57 L975.37,628.57 L975.66,627.56 L975.84,626.55 L975.91,625.56 Z" fill="none" stroke="#000" stroke-width="1.9"/>
<path d="M974.28,626.12 L974.25,625.41 L974.14,624.74 L973.95,624.12 L973.68,623.56 L973.35,623.08 L972.94,622.67 L972.48,622.36 L971.96,622.13 L971.40,622.01 L970.81,621.98 L970.19,622.05 L969.57,622.22 L968.94,622.48 L968.32,622.84 L967.72,623.27 L967.15,623.79 L966.61,624.37 L966.13,625.02 L965.71,625.70 L965.35,626.43 L965.06,627.18 L964.84,627.93 L964.70,628.69 L964.65,629.43 L964.68,630.14 L964.79,630.81 L964.98,631.43 L965.24,631.99 L965.58,632.47 L965.99,632.87 L966.45,633.19 L966.97,633.41 L967.53,633.54 L968.12,633.57 L968.74,633.50 L969.36,633.33 L969.99,633.07 L970.61,632.71 L971.21,632.27 L971.78,631.76 L972.32,631.17 L972.80,630.53 L973.22,629.84 L973.58,629.12 L973.87,628.37 L974.09,627.61 L974.22,626.86 L974.28,626.12 Z" fill="none" stroke="#000" stroke-width="1.5"/>
<path d="M1000.39,532.73 L998.50,636.68" fill="none" stroke="#000" stroke-width="2.4" stroke-linecap="round"/>
<ellipse cx="1000.34" cy="534.97" rx="2.4" ry="3" fill="#000"/>
<path d="M1004.80,642.08 L1004.76,641.13 L1004.62,640.23 L1004.36,639.40 L1004.01,638.66 L1003.55,638.01 L1003.01,637.47 L1002.39,637.05 L1001.70,636.75 L1000.95,636.58 L1000.16,636.54 L999.33,636.63 L998.49,636.86 L997.65,637.21 L996.82,637.69 L996.02,638.27 L995.25,638.96 L994.54,639.74 L993.90,640.60 L993.33,641.53 L992.84,642.50 L992.45,643.50 L992.17,644.51 L991.99,645.52 L991.91,646.51 L991.95,647.46 L992.10,648.36 L992.35,649.19 L992.71,649.93 L993.16,650.58 L993.70,651.12 L994.33,651.55 L995.02,651.85 L995.77,652.02 L996.56,652.05 L997.38,651.96 L998.22,651.73 L999.06,651.38 L999.89,650.91 L1000.70,650.32 L1001.46,649.63 L1002.17,648.85 L1002.82,647.99 L1003.39,647.07 L1003.87,646.10 L1004.26,645.10 L1004.55,644.08 L1004.73,643.07 L1004.80,642.08 Z" fill="none" stroke="#000" stroke-width="1.9"/>
<path d="M1003.17,642.64 L1003.14,641.93 L1003.03,641.26 L1002.84,640.64 L1002.58,640.08 L1002.24,639.60 L1001.83,639.20 L1001.37,638.88 L1000.85,638.66 L1000.29,638.53 L999.70,638.50 L999.09,638.57 L998.46,638.74 L997.83,639.00 L997.21,639.36 L996.61,639.80 L996.04,640.31 L995.51,640.90 L995.02,641.54 L994.60,642.23 L994.24,642.95 L993.95,643.70 L993.73,644.46 L993.60,645.21 L993.54,645.95 L993.57,646.66 L993.68,647.33 L993.87,647.95 L994.14,648.51 L994.48,648.99 L994.88,649.40 L995.35,649.71 L995.86,649.94 L996.42,650.06 L997.01,650.09 L997.63,650.02 L998.26,649.85 L998.89,649.59 L999.51,649.24 L1000.11,648.80 L1000.68,648.28 L1001.21,647.70 L1001.69,647.05 L1002.12,646.37 L1002.48,645.64 L1002.77,644.89 L1002.98,644.14 L1003.12,643.38 L1003.17,642.64 Z" fill="none" stroke="#000" stroke-width="1.5"/>
<path d="M1029.85,546.28 L1130.80,511.57" fill="none" stroke="#000" stroke-width="5.4" stroke-linecap="round" stroke-linejoin="round"/>
<path d="M1029.85,546.28 L1130.80,511.57" fill="none" stroke="#fff" stroke-width="1.75" stroke-linecap="round" stroke-linejoin="round"/>
<path d="M1026.47,689.93 L1035.01,686.99 L1036.65,686.31 L1038.08,685.44 L1039.29,684.40 L1040.29,683.18 L1041.07,681.78 L1041.64,680.20 L1042.00,678.45 L1042.15,676.53 L1042.37,663.98" fill="none" stroke="#000" stroke-width="5.4" stroke-linecap="butt" stroke-linejoin="round"/>
<path d="M1026.47,689.93 L1035.01,686.99 L1036.65,686.31 L1038.08,685.44 L1039.29,684.40 L1040.29,683.18 L1041.07,681.78 L1041.64,680.20 L1042.00,678.45 L1042.15,676.53 L1042.37,663.98" fill="none" stroke="#fff" stroke-width="1.75" stroke-linecap="butt" stroke-linejoin="round"/>
<path d="M1027.62,669.05 L1044.32,663.31 L1047.00,662.52 L1049.63,661.99 L1052.19,661.75 L1054.69,661.78 L1057.13,662.09 L1059.51,662.67 L1061.82,663.53 L1064.08,664.66 L1099.00,684.63 L1101.08,686.02 L1102.88,687.64 L1104.39,689.49 L1105.61,691.58 L1106.55,693.90 L1107.21,696.45 L1107.58,699.24 L1107.66,702.26 L1105.75,807.74" fill="none" stroke="#000" stroke-width="5.4" stroke-linecap="round" stroke-linejoin="round"/>
<path d="M1027.62,669.05 L1044.32,663.31 L1047.00,662.52 L1049.63,661.99 L1052.19,661.75 L1054.69,661.78 L1057.13,662.09 L1059.51,662.67 L1061.82,663.53 L1064.08,664.66 L1099.00,684.63 L1101.08,686.02 L1102.88,687.64 L1104.39,689.49 L1105.61,691.58 L1106.55,693.90 L1107.21,696.45 L1107.58,699.24 L1107.66,702.26 L1105.75,807.74" fill="none" stroke="#fff" stroke-width="1.75" stroke-linecap="round" stroke-linejoin="round"/>
<path d="M1020.25,534.44 L1027.08,532.09 L1032.92,535.43 L1028.27,791.28 L1021.44,793.63 L1015.60,790.29 Z" fill="#fff" stroke="#000" stroke-width="1.9" stroke-linejoin="round"/>
<path d="M1020.25,534.44 L1026.09,537.78 L1032.92,535.43" fill="none" stroke="#000" stroke-width="1.71"/>
<path d="M1026.09,537.78 L1021.44,793.63" fill="none" stroke="#000" stroke-width="1.71"/>
<path d="M1128.18,497.33 L1135.01,494.98 L1140.86,498.32 L1136.21,754.17 L1129.37,756.52 L1123.53,753.18 Z" fill="#fff" stroke="#000" stroke-width="1.9" stroke-linejoin="round"/>
<path d="M1128.18,497.33 L1134.02,500.67 L1140.86,498.32" fill="none" stroke="#000" stroke-width="1.71"/>
<path d="M1134.02,500.67 L1129.37,756.52" fill="none" stroke="#000" stroke-width="1.71"/>
<path d="M1127.78,519.28 L1133.62,522.62 L1133.85,510.08 L1128.01,506.74 Z" fill="#000"/>
<path d="M1128.19,654.95 L1120.43,657.62 L1118.79,658.06 L1117.38,658.17 L1116.19,657.95 L1115.22,657.41 L1114.48,656.54 L1113.96,655.34 L1113.66,653.81 L1113.58,651.96 L1113.81,639.42" fill="none" stroke="#000" stroke-width="5.4" stroke-linecap="butt" stroke-linejoin="round"/>
<path d="M1128.19,654.95 L1120.43,657.62 L1118.79,658.06 L1117.38,658.17 L1116.19,657.95 L1115.22,657.41 L1114.48,656.54 L1113.96,655.34 L1113.66,653.81 L1113.58,651.96 L1113.81,639.42" fill="none" stroke="#fff" stroke-width="1.75" stroke-linecap="butt" stroke-linejoin="round"/>
<path d="M1125.62,638.47 L1129.41,640.64 L1129.63,628.99 L1125.83,626.82 Z" fill="#000"/>
<path d="M1125.26,658.19 L1129.05,660.36 L1129.22,651.40 L1125.42,649.22 Z" fill="#000"/>
<path d="M1128.57,634.34 L1111.68,640.15 L1109.27,641.11 L1107.48,642.10 L1106.30,643.14 L1105.75,644.22 L1105.81,645.35 L1106.49,646.51 L1107.78,647.72 L1109.70,648.97 L1144.62,668.94 L1146.70,670.33 L1148.50,671.95 L1150.01,673.81 L1151.23,675.89 L1152.17,678.21 L1152.83,680.77 L1153.20,683.55 L1153.28,686.57 L1151.36,792.05" fill="none" stroke="#000" stroke-width="5.4" stroke-linecap="round" stroke-linejoin="round"/>
<path d="M1128.57,634.34 L1111.68,640.15 L1109.27,641.11 L1107.48,642.10 L1106.30,643.14 L1105.75,644.22 L1105.81,645.35 L1106.49,646.51 L1107.78,647.72 L1109.70,648.97 L1144.62,668.94 L1146.70,670.33 L1148.50,671.95 L1150.01,673.81 L1151.23,675.89 L1152.17,678.21 L1152.83,680.77 L1153.20,683.55 L1153.28,686.57 L1151.36,792.05" fill="none" stroke="#fff" stroke-width="1.75" stroke-linecap="round" stroke-linejoin="round"/>
<path d="M825.35,586.53 L933.67,549.29" fill="none" stroke="#000" stroke-width="5.5" stroke-linecap="round" stroke-linejoin="round"/>
<path d="M825.35,586.53 L933.67,549.29" fill="none" stroke="#fff" stroke-width="1.75" stroke-linecap="round" stroke-linejoin="round"/>
<path d="M815.93,575.07 L822.76,572.73 L828.61,576.07 L824.89,780.39 L818.06,782.74 L812.22,779.40 Z" fill="#fff" stroke="#000" stroke-width="1.9" stroke-linejoin="round"/>
<path d="M815.93,575.07 L821.77,578.42 L828.61,576.07" fill="none" stroke="#000" stroke-width="1.71"/>
<path d="M821.77,578.42 L818.06,782.74" fill="none" stroke="#000" stroke-width="1.71"/>
<path d="M708.73,677.17 L817.82,639.66" fill="none" stroke="#000" stroke-width="5.5" stroke-linecap="round" stroke-linejoin="round"/>
<path d="M708.73,677.17 L817.82,639.66" fill="none" stroke="#fff" stroke-width="1.75" stroke-linecap="round" stroke-linejoin="round"/>
<path d="M701.66,765.22 L688.33,757.59 L686.99,756.95 L685.82,756.67 L684.83,756.73 L684.01,757.16 L683.36,757.93 L682.89,759.06 L682.59,760.55 L682.47,762.39 L682.28,772.96 L682.33,774.90 L682.57,776.70 L682.99,778.34 L683.59,779.83 L684.38,781.17 L685.35,782.36 L686.51,783.40 L687.84,784.30 L701.18,791.92" fill="none" stroke="#000" stroke-width="5.4" stroke-linecap="butt" stroke-linejoin="round"/>
<path d="M701.66,765.22 L688.33,757.59 L686.99,756.95 L685.82,756.67 L684.83,756.73 L684.01,757.16 L683.36,757.93 L682.89,759.06 L682.59,760.55 L682.47,762.39 L682.28,772.96 L682.33,774.90 L682.57,776.70 L682.99,778.34 L683.59,779.83 L684.38,781.17 L685.35,782.36 L686.51,783.40 L687.84,784.30 L701.18,791.92" fill="none" stroke="#fff" stroke-width="1.75" stroke-linecap="butt" stroke-linejoin="round"/>
<path d="M699.70,665.36 L706.53,663.01 L712.37,666.35 L709.58,820.04 L702.75,822.39 L696.91,819.05 Z" fill="#fff" stroke="#000" stroke-width="1.9" stroke-linejoin="round"/>
<path d="M699.70,665.36 L705.54,668.70 L712.37,666.35" fill="none" stroke="#000" stroke-width="1.71"/>
<path d="M705.54,668.70 L702.75,822.39" fill="none" stroke="#000" stroke-width="1.71"/>
<path d="M707.23,741.51 L721.20,749.50 L722.54,750.39 L723.69,751.43 L724.66,752.62 L725.45,753.96 L726.05,755.45 L726.47,757.10 L726.71,758.89 L726.77,760.83 L726.58,771.31 L726.45,773.15 L726.16,774.64 L725.68,775.77 L725.04,776.55 L724.22,776.97 L723.22,777.04 L722.06,776.75 L720.71,776.11 L706.74,768.12" fill="none" stroke="#000" stroke-width="5.4" stroke-linecap="butt" stroke-linejoin="round"/>
<path d="M707.23,741.51 L721.20,749.50 L722.54,750.39 L723.69,751.43 L724.66,752.62 L725.45,753.96 L726.05,755.45 L726.47,757.10 L726.71,758.89 L726.77,760.83 L726.58,771.31 L726.45,773.15 L726.16,774.64 L725.68,775.77 L725.04,776.55 L724.22,776.97 L723.22,777.04 L722.06,776.75 L720.71,776.11 L706.74,768.12" fill="none" stroke="#fff" stroke-width="1.75" stroke-linecap="butt" stroke-linejoin="round"/>
<g style="opacity:0.999">
<text x="0" y="6.19" font-size="17.3" text-anchor="middle" textLength="35" lengthAdjust="spacingAndGlyphs" transform="translate(294.50 40.30) rotate(0) skewX(-12)" >3740</text>
<text x="0" y="6.19" font-size="17.3" text-anchor="middle" textLength="28" lengthAdjust="spacingAndGlyphs" transform="translate(443.50 63.50) rotate(0) skewX(-12)" >1140</text>
<text x="0" y="6.19" font-size="17.3" text-anchor="middle" textLength="28" lengthAdjust="spacingAndGlyphs" transform="translate(116.00 189.00) rotate(0) skewX(-12)" >1140</text>
<text x="0" y="6.19" font-size="17.3" text-anchor="middle" textLength="28" lengthAdjust="spacingAndGlyphs" transform="translate(270.00 189.50) rotate(0) skewX(-12)" >1140</text>
<text x="0" y="6.19" font-size="17.3" text-anchor="middle" textLength="30" lengthAdjust="spacingAndGlyphs" transform="translate(37.50 286.00) rotate(-90) skewX(-12)" >1500</text>
<text x="0" y="6.19" font-size="17.3" text-anchor="middle" textLength="31.5" lengthAdjust="spacingAndGlyphs" transform="translate(102.00 323.20) rotate(-90) skewX(-12)" >1400</text>
<text x="0" y="6.19" font-size="17.3" text-anchor="middle" textLength="36" lengthAdjust="spacingAndGlyphs" transform="translate(146.00 258.00) rotate(-90) skewX(-12)" >2000</text>
<text x="0" y="6.19" font-size="17.3" text-anchor="middle" textLength="31" lengthAdjust="spacingAndGlyphs" transform="translate(274.50 305.50) rotate(-90) skewX(-12)" >1900</text>
<text x="0" y="6.19" font-size="17.3" text-anchor="middle" textLength="35" lengthAdjust="spacingAndGlyphs" transform="translate(302.70 287.50) rotate(-90) skewX(-12)" >2500</text>
<text x="0" y="6.19" font-size="17.3" text-anchor="middle" textLength="37" lengthAdjust="spacingAndGlyphs" transform="translate(329.20 236.00) rotate(-90) skewX(-12)" >2400</text>
<text x="0" y="6.19" font-size="17.3" text-anchor="middle" textLength="27" lengthAdjust="spacingAndGlyphs" transform="translate(530.70 128.20) rotate(-90) skewX(-12)" >280</text>
<text x="0" y="6.19" font-size="17.3" text-anchor="middle" textLength="27" lengthAdjust="spacingAndGlyphs" transform="translate(530.70 159.85) rotate(-90) skewX(-12)" >280</text>
<text x="0" y="6.19" font-size="17.3" text-anchor="middle" textLength="27" lengthAdjust="spacingAndGlyphs" transform="translate(530.70 191.25) rotate(-90) skewX(-12)" >280</text>
<text x="0" y="6.19" font-size="17.3" text-anchor="middle" textLength="27" lengthAdjust="spacingAndGlyphs" transform="translate(530.70 222.88) rotate(-90) skewX(-12)" >280</text>
<text x="0" y="6.19" font-size="17.3" text-anchor="middle" textLength="27" lengthAdjust="spacingAndGlyphs" transform="translate(530.70 255.03) rotate(-90) skewX(-12)" >280</text>
<text x="0" y="6.19" font-size="17.3" text-anchor="middle" textLength="27" lengthAdjust="spacingAndGlyphs" transform="translate(530.70 287.35) rotate(-90) skewX(-12)" >280</text>
<text x="0" y="6.19" font-size="17.3" text-anchor="middle" textLength="27" lengthAdjust="spacingAndGlyphs" transform="translate(530.70 319.30) rotate(-90) skewX(-12)" >280</text>
<text x="0" y="6.19" font-size="17.3" text-anchor="middle" textLength="27" lengthAdjust="spacingAndGlyphs" transform="translate(530.70 353.85) rotate(-90) skewX(-12)" >328</text>
<text x="0" y="6.19" font-size="17.3" text-anchor="middle" textLength="28.7" lengthAdjust="spacingAndGlyphs" transform="translate(409.00 519.60) rotate(-90) skewX(-12)" >1140</text>
<text x="0" y="6.19" font-size="17.3" text-anchor="middle" textLength="27.9" lengthAdjust="spacingAndGlyphs" transform="translate(583.20 459.60) rotate(-90) skewX(-12)" >270</text>
<text x="0" y="6.19" font-size="17.3" text-anchor="middle" textLength="27.9" lengthAdjust="spacingAndGlyphs" transform="translate(568.70 591.60) rotate(-90) skewX(-12)" >270</text>
<text x="0" y="6.19" font-size="17.3" text-anchor="middle" textLength="27" lengthAdjust="spacingAndGlyphs" transform="translate(530.60 572.00) rotate(-90) skewX(-12)" >275</text>
<text x="0" y="0" transform="translate(73 728) skewX(-9)" font-size="23" textLength="253" lengthAdjust="spacingAndGlyphs">Эскиз изделия согласован:</text>
<text x="0" y="6.19" font-size="17.3" text-anchor="middle" textLength="35" lengthAdjust="spacingAndGlyphs" transform="translate(871.00 185.00) rotate(-90) skewX(-12)" >2378</text>
<text x="0" y="6.19" font-size="17.3" text-anchor="middle" textLength="31.5" lengthAdjust="spacingAndGlyphs" transform="translate(957.00 303.20) rotate(-90) skewX(-12)" >1200</text>
<text x="0" y="6.19" font-size="17.3" text-anchor="middle" textLength="36.6" lengthAdjust="spacingAndGlyphs" transform="translate(810.70 402.40) rotate(0) skewX(-12)" >2007</text>
<text x="0" y="6.19" font-size="17.3" text-anchor="middle" textLength="37" lengthAdjust="spacingAndGlyphs" transform="translate(795.00 428.00) rotate(0) skewX(-12)" >2280</text>
</g>
</svg></body></html>
